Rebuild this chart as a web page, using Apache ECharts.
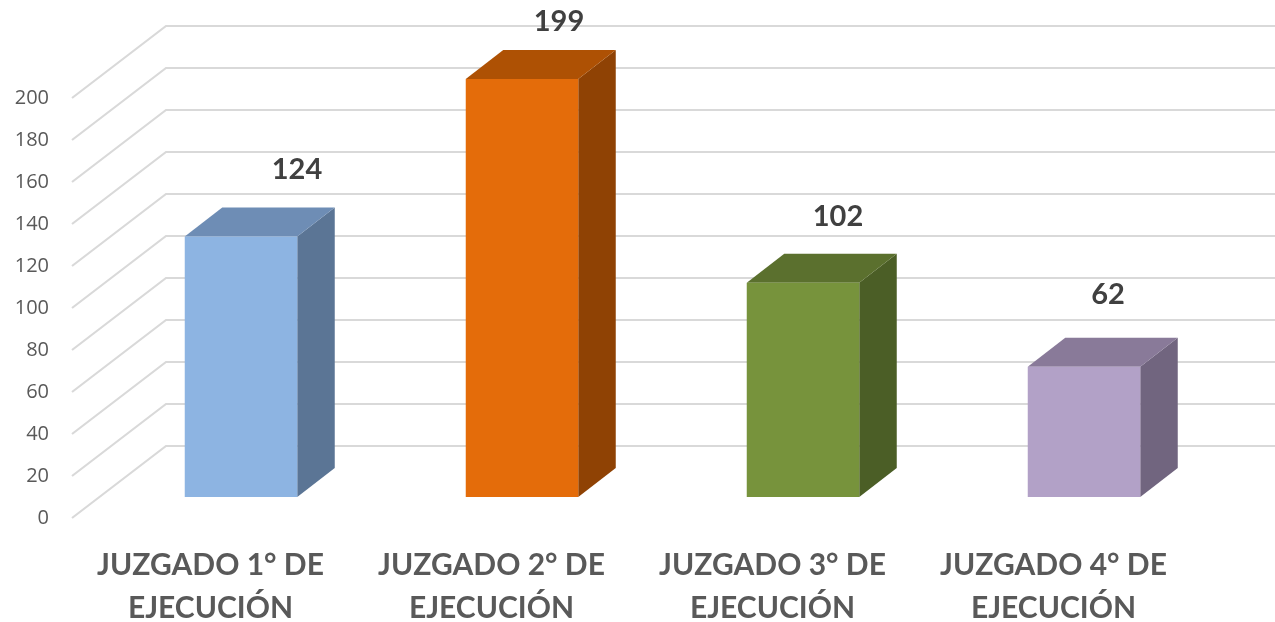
<!DOCTYPE html>
<html>
<head>
<meta charset="utf-8">
<style>html,body{margin:0;padding:0;background:#fff}#c{width:1275px;height:622px}</style>
<script src="https://cdn.jsdelivr.net/npm/echarts@6/dist/echarts.min.js"></script>
</head>
<body>
<div id="c"></div>
<script>
const categories = ['JUZGADO 1° DE\nEJECUCIÓN', 'JUZGADO 2° DE\nEJECUCIÓN', 'JUZGADO 3° DE\nEJECUCIÓN', 'JUZGADO 4° DE\nEJECUCIÓN'];
const values = [124, 199, 102, 62];
const yTicks = [0, 20, 40, 60, 80, 100, 120, 140, 160, 180, 200];

const frontColors = ['#8DB4E2', '#E46C0A', '#77933C', '#B2A1C7'];
const topColors = ['#6E8DB5', '#AE5104', '#5B702E', '#897A99'];
const sideColors = ['#5B7595', '#8F4204', '#4B5E26', '#71657F'];

// Oblique projection of the floor depth, in pixels
const wallDepth = [94, -72];
const barOffset = [30.5, -21];
const barDepth = [37.5, -29];
const barRatio = 112.5 / 281;
const labelShift = [[56, -67], [37, -57], [35, -66], [24, -72]];

const chart = echarts.init(document.getElementById('c'), null, { renderer: 'canvas' });

function renderWall(params, api) {
  const v = api.value(0);
  const cs = params.coordSys;
  const y = api.coord([0, v])[1];
  const x0 = cs.x + 2;
  const x1 = x0 + wallDepth[0];
  const y1 = y + wallDepth[1];
  return {
    type: 'polyline',
    silent: true,
    shape: { points: [[x0, y], [x1, y1], [cs.x + cs.width + wallDepth[0], y1]] },
    style: { fill: null, stroke: '#D9D9D9', lineWidth: 2.2 }
  };
}

function renderBar(params, api) {
  const i = api.value(0);
  const v = api.value(1);
  const c = api.coord([i, v]);
  const b = api.coord([i, 0]);
  const w = api.size([1, 0])[0] * barRatio;
  const l = c[0] - w / 2 + barOffset[0];
  const r = l + w;
  const t = c[1] + barOffset[1];
  const bt = b[1] + barOffset[1];
  const dx = barDepth[0], dy = barDepth[1];
  return {
    type: 'group',
    children: [
      { type: 'polygon', shape: { points: [[r, t], [r + dx, t + dy], [r + dx, bt + dy], [r, bt]] }, style: { fill: sideColors[i] } },
      { type: 'polygon', shape: { points: [[l, t], [l + dx, t + dy], [r + dx, t + dy], [r, t]] }, style: { fill: topColors[i] } },
      { type: 'rect', shape: { x: l, y: t, width: w, height: bt - t }, style: { fill: frontColors[i] } },
      {
        type: 'text',
        style: {
          x: l + w / 2 + labelShift[i][0],
          y: t + labelShift[i][1],
          text: String(v),
          fill: '#404040',
          font: 'bold 29px Lato',
          align: 'center',
          verticalAlign: 'middle'
        }
      }
    ]
  };
}

chart.setOption({
  animation: false,
  backgroundColor: '#fff',
  grid: { left: 70, top: 98, width: 1124, height: 420, containLabel: false, outerBoundsMode: 'none' },
  xAxis: {
    type: 'category',
    data: categories,
    axisLine: { show: false },
    axisTick: { show: false },
    axisLabel: {
      interval: 0,
      margin: 26,
      color: '#595959',
      fontFamily: 'Lato',
      fontWeight: 'bold',
      fontSize: 30,
      lineHeight: 43
    }
  },
  yAxis: {
    type: 'value',
    min: 0,
    max: 200,
    interval: 20,
    axisLine: { show: false },
    axisTick: { show: false },
    splitLine: { show: false },
    axisLabel: { margin: 21, color: '#595959', fontFamily: 'Open Sans', fontSize: 20, padding: [2, 0, 0, 0] }
  },
  series: [
    {
      type: 'custom',
      clip: false,
      silent: true,
      coordinateSystem: 'cartesian2d',
      encode: { y: 0 },
      data: yTicks.map(v => [v]),
      renderItem: renderWall,
      z: 1
    },
    {
      type: 'custom',
      clip: false,
      coordinateSystem: 'cartesian2d',
      encode: { x: 0, y: 1 },
      data: values.map((v, i) => [i, v]),
      renderItem: renderBar,
      z: 2
    }
  ]
});
</script>
</body>
</html>
